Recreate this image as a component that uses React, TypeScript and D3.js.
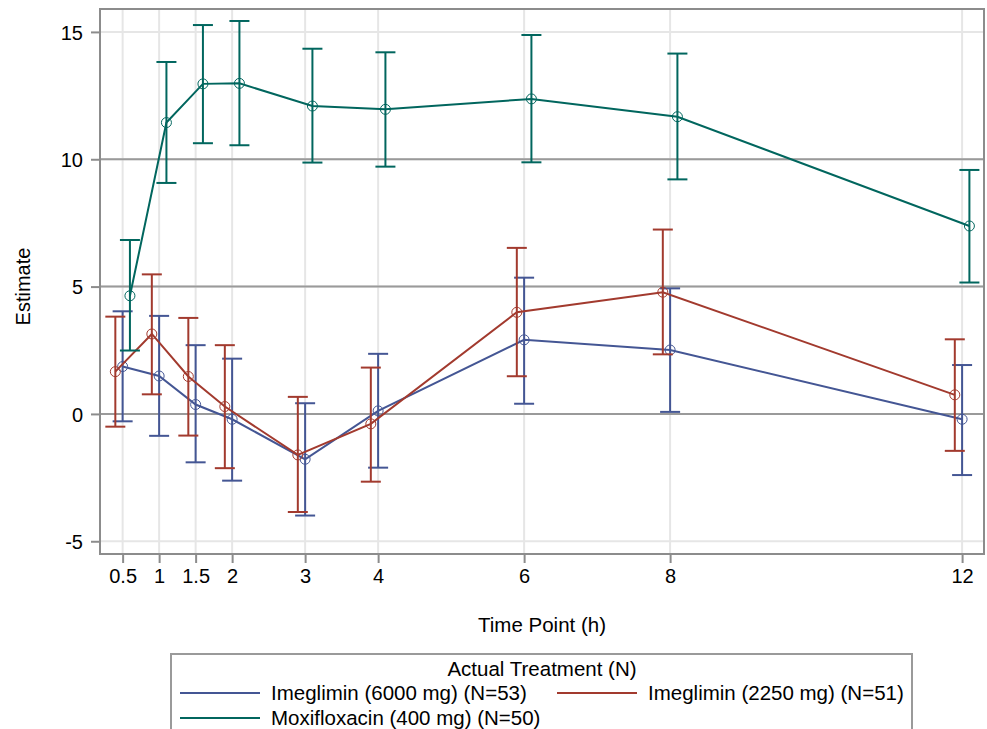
import React, { useEffect, useRef } from "react";
import * as d3 from "d3";

// time points (h) and tick labels
const timePoints = [0.5, 1, 1.5, 2, 3, 4, 6, 8, 12];
const xTickLabels = ["0.5", "1", "1.5", "2", "3", "4", "6", "8", "12"];
const yTicks = [-5, 0, 5, 10, 15];
const yTickLabels = ["-5", "0", "5", "10", "15"];
const refLines = [0, 5, 10];

// Imeglimin 6000 mg
const est6000 = [1.86, 1.49, 0.37, -0.21, -1.78, 0.12, 2.91, 2.51, -0.21];
const lo6000 = [-0.29, -0.86, -1.9, -2.62, -3.99, -2.11, 0.4, 0.08, -2.4];
const hi6000 = [4.03, 3.85, 2.7, 2.17, 0.42, 2.36, 5.35, 4.93, 1.92];

// Imeglimin 2250 mg
const est2250 = [1.66, 3.14, 1.47, 0.29, -1.61, -0.39, 3.99, 4.78, 0.75];
const lo2250 = [-0.5, 0.77, -0.85, -2.13, -3.85, -2.66, 1.48, 2.34, -1.45];
const hi2250 = [3.82, 5.48, 3.77, 2.7, 0.67, 1.82, 6.52, 7.24, 2.93];

// Moxifloxacin 400 mg
const estMoxi = [4.64, 11.44, 12.96, 12.98, 12.09, 11.96, 12.37, 11.67, 7.38];
const loMoxi = [2.49, 9.07, 10.63, 10.55, 9.87, 9.71, 9.88, 9.21, 5.16];
const hiMoxi = [6.83, 13.82, 15.27, 15.43, 14.34, 14.2, 14.88, 14.15, 9.58];

const seriesNames = [
  "Imeglimin (6000 mg) (N=53)",
  "Imeglimin (2250 mg) (N=51)",
  "Moxifloxacin (400 mg) (N=50)",
];
const seriesColors = ["#445694", "#A23A2E", "#01665E"];
const seriesShift = [0, -0.1, 0.1]; // cluster offset in hours

const W = 987;
const H = 729;
const FONT = "'Liberation Sans', Arial, sans-serif";

const App = () => {
  const svgRef = useRef<SVGSVGElement>(null);

  useEffect(() => {
    document.body.style.margin = "0";
    const svg = d3.select(svgRef.current);
    svg.selectAll("*").remove();

    const left = 100, right = 984, top = 9, bottom = 554;
    const x = d3.scaleLinear().domain([0.19, 12.3]).range([left, right]);
    const y = d3.scaleLinear().domain([-5.5, 15.9]).range([bottom, top]);

    // grid
    const grid = svg.append("g");
    grid.selectAll(".vg").data(timePoints).join("line")
      .attr("x1", (d) => x(d)).attr("x2", (d) => x(d))
      .attr("y1", top).attr("y2", bottom)
      .attr("stroke", "#e6e6e6").attr("stroke-width", 2);
    grid.selectAll(".hg").data(yTicks).join("line")
      .attr("x1", left).attr("x2", right)
      .attr("y1", (d) => y(d)).attr("y2", (d) => y(d))
      .attr("stroke", "#e6e6e6").attr("stroke-width", 2);

    // reference lines
    svg.append("g").selectAll("line").data(refLines).join("line")
      .attr("x1", left).attr("x2", right)
      .attr("y1", (d) => y(d)).attr("y2", (d) => y(d))
      .attr("stroke", "#9a9a9a").attr("stroke-width", 2);

    // axes
    const xAxis = svg.append("g")
      .attr("transform", `translate(0,${bottom})`)
      .call(d3.axisBottom(x).tickValues(timePoints)
        .tickFormat((_, i) => xTickLabels[i]).tickSize(9).tickPadding(6));
    const yAxis = svg.append("g")
      .attr("transform", `translate(${left},0)`)
      .call(d3.axisLeft(y).tickValues(yTicks)
        .tickFormat((_, i) => yTickLabels[i]).tickSize(9).tickPadding(8));
    [xAxis, yAxis].forEach((a) => {
      a.select(".domain").remove();
      a.selectAll(".tick line").attr("stroke", "#8c8c8c").attr("stroke-width", 2);
      a.selectAll(".tick text").attr("fill", "#000")
        .style("font-family", FONT).style("font-size", "20px");
    });
    yAxis.selectAll(".tick text").attr("dy", "0.36em");

    // frame
    svg.append("rect")
      .attr("x", left).attr("y", top)
      .attr("width", right - left).attr("height", bottom - top)
      .attr("fill", "none").attr("stroke", "#8c8c8c").attr("stroke-width", 2);

    const series = [
      { est: est6000, lo: lo6000, hi: hi6000 },
      { est: est2250, lo: lo2250, hi: hi2250 },
      { est: estMoxi, lo: loMoxi, hi: hiMoxi },
    ];

    const line = d3.line<number>()
      .x((_, i) => x(timePoints[i]))
      .y((d) => y(d));

    series.forEach((s, k) => {
      const g = svg.append("g")
        .attr("transform", `translate(${x(seriesShift[k]) - x(0)},0)`);
      const color = seriesColors[k];
      const bars = g.append("g").attr("stroke", color).attr("stroke-width", 2);
      timePoints.forEach((t, i) => {
        const cx = x(t);
        bars.append("line").attr("x1", cx).attr("x2", cx)
          .attr("y1", y(s.lo[i])).attr("y2", y(s.hi[i]));
        bars.append("line").attr("x1", cx - 10).attr("x2", cx + 10)
          .attr("y1", y(s.lo[i])).attr("y2", y(s.lo[i]));
        bars.append("line").attr("x1", cx - 10).attr("x2", cx + 10)
          .attr("y1", y(s.hi[i])).attr("y2", y(s.hi[i]));
      });
      g.append("path").datum(s.est).attr("d", line)
        .attr("fill", "none").attr("stroke", color).attr("stroke-width", 2);
      g.selectAll("circle").data(s.est).join("circle")
        .attr("cx", (_, i) => x(timePoints[i])).attr("cy", (d) => y(d))
        .attr("r", 5).attr("fill", "none").attr("stroke", color).attr("stroke-width", 1);
    });

    // axis titles
    svg.append("text")
      .attr("transform", `translate(30,${(top + bottom) / 2 + 5}) rotate(-90)`)
      .attr("text-anchor", "middle")
      .style("font-family", FONT).style("font-size", "20px")
      .text("Estimate");
    svg.append("text")
      .attr("x", (left + right) / 2).attr("y", 632)
      .attr("text-anchor", "middle")
      .style("font-family", FONT).style("font-size", "20.5px")
      .text("Time Point (h)");

    // legend
    const lg = svg.append("g");
    lg.append("rect")
      .attr("x", 171).attr("y", 654).attr("width", 741).attr("height", 90)
      .attr("fill", "none").attr("stroke", "#9a9a9a").attr("stroke-width", 2);
    lg.append("text")
      .attr("x", 542).attr("y", 676).attr("text-anchor", "middle")
      .style("font-family", FONT).style("font-size", "20.5px")
      .text("Actual Treatment (N)");
    const pos = [
      { x: 180, y: 693 },
      { x: 557, y: 693 },
      { x: 180, y: 718 },
    ];
    seriesNames.forEach((name, k) => {
      const p = pos[k];
      lg.append("line")
        .attr("x1", p.x).attr("x2", p.x + 80)
        .attr("y1", p.y).attr("y2", p.y)
        .attr("stroke", seriesColors[k]).attr("stroke-width", 2);
      lg.append("text")
        .attr("x", p.x + 91).attr("y", p.y + 7)
        .style("font-family", FONT).style("font-size", "20.5px")
        .text(name);
    });
  }, []);

  return <svg ref={svgRef} width={W} height={H} style={{ display: "block" }} />;
};

export default App;
